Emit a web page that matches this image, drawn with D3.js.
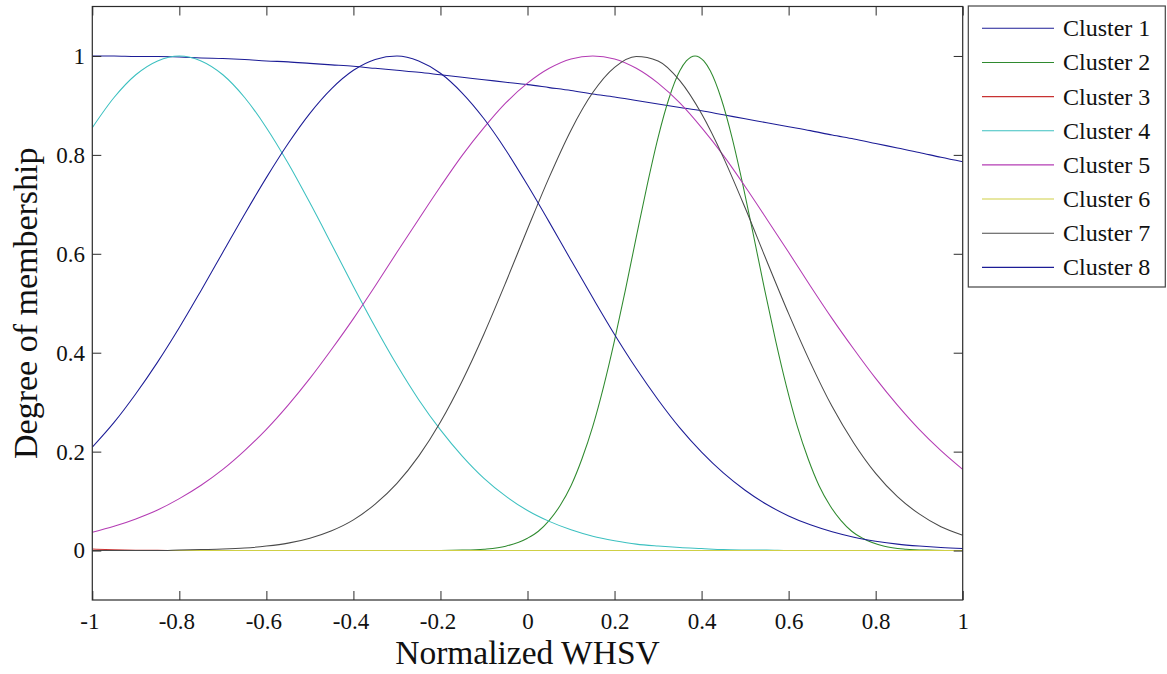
<!DOCTYPE html>
<html>
<head>
<meta charset="utf-8">
<script src="https://cdn.jsdelivr.net/npm/d3@7"></script>
<style>
  html, body { margin: 0; padding: 0; background: #ffffff; }
  svg { display: block; font-family: "Liberation Serif", "Times New Roman", serif; }
</style>
</head>
<body>
<svg id="chart" width="1167" height="674"></svg>
<script>
// Shared abscissa (normalized WHSV) for the wide membership curves
const xGrid = [-1, -0.95, -0.9, -0.85, -0.8, -0.75, -0.7, -0.65, -0.6, -0.55, -0.5,
  -0.45, -0.4, -0.35, -0.3, -0.25, -0.2, -0.15, -0.1, -0.05, 0,
  0.05, 0.1, 0.15, 0.2, 0.25, 0.3, 0.35, 0.4, 0.45, 0.5,
  0.55, 0.6, 0.65, 0.7, 0.75, 0.8, 0.85, 0.9, 0.95, 1];

// Degree of membership for each cluster
const cluster1 = [1.000, 1.000, 0.999, 0.999, 0.998, 0.996, 0.995, 0.993, 0.990, 0.988, 0.985,
  0.982, 0.979, 0.975, 0.971, 0.967, 0.962, 0.957, 0.952, 0.947, 0.942,
  0.936, 0.930, 0.923, 0.917, 0.910, 0.903, 0.896, 0.889, 0.881, 0.873,
  0.865, 0.857, 0.849, 0.840, 0.832, 0.823, 0.814, 0.805, 0.795, 0.786];

// Cluster 2 is narrow, so it has its own denser abscissa
const xCluster2 = [-1, -0.5, -0.2, -0.15, -0.1, -0.05, 0, 0.025, 0.05, 0.075, 0.1, 0.125,
  0.15, 0.175, 0.2, 0.225, 0.25, 0.275, 0.3, 0.325, 0.35, 0.365, 0.385, 0.405,
  0.42, 0.445, 0.47, 0.495, 0.52, 0.545, 0.57, 0.595, 0.62, 0.645, 0.67, 0.695,
  0.72, 0.745, 0.77, 0.82, 0.87, 0.92, 0.97, 1];
const cluster2 = [0, 0, 0.0002, 0.0008, 0.0028, 0.0088, 0.025, 0.039, 0.061, 0.091, 0.131, 0.185,
  0.251, 0.332, 0.425, 0.527, 0.634, 0.739, 0.835, 0.914, 0.970, 0.990, 1.000, 0.990,
  0.970, 0.914, 0.835, 0.739, 0.634, 0.527, 0.425, 0.332, 0.251, 0.185, 0.131, 0.091,
  0.061, 0.039, 0.025, 0.0088, 0.0028, 0.0008, 0.0002, 0];

const cluster3 = [0.003, 0.0015, 0.0007, 0.0003, 0.0001, 0, 0, 0, 0, 0, 0,
  0, 0, 0, 0, 0, 0, 0, 0, 0, 0,
  0, 0, 0, 0, 0, 0, 0, 0, 0, 0,
  0, 0, 0, 0, 0, 0, 0, 0, 0, 0];

const cluster4 = [0.855, 0.916, 0.962, 0.990, 1.000, 0.990, 0.962, 0.916, 0.855, 0.783, 0.703,
  0.619, 0.534, 0.452, 0.375, 0.305, 0.244, 0.191, 0.146, 0.110, 0.081,
  0.059, 0.042, 0.029, 0.020, 0.013, 0.009, 0.006, 0.004, 0.002, 0.001,
  0.001, 0.000, 0, 0, 0, 0, 0, 0, 0, 0];

const cluster5 = [0.037, 0.049, 0.064, 0.082, 0.105, 0.132, 0.164, 0.202, 0.245, 0.294, 0.348,
  0.407, 0.469, 0.535, 0.603, 0.670, 0.736, 0.799, 0.855, 0.905, 0.945,
  0.975, 0.994, 1.000, 0.994, 0.975, 0.945, 0.905, 0.855, 0.799, 0.736,
  0.670, 0.603, 0.535, 0.469, 0.407, 0.348, 0.294, 0.245, 0.202, 0.164];

const cluster6 = [0, 0, 0, 0, 0, 0, 0, 0, 0, 0, 0,
  0, 0, 0, 0, 0, 0, 0, 0, 0, 0,
  0, 0, 0, 0, 0, 0, 0, 0, 0, 0,
  0, 0, 0, 0, 0, 0, 0, 0, 0, 0];

const cluster7 = [0.000, 0.000, 0.000, 0.000, 0.001, 0.002, 0.003, 0.005, 0.009, 0.015, 0.025,
  0.040, 0.062, 0.094, 0.136, 0.191, 0.260, 0.343, 0.438, 0.542, 0.650,
  0.755, 0.850, 0.926, 0.977, 0.999, 0.990, 0.950, 0.883, 0.795, 0.693,
  0.585, 0.479, 0.380, 0.291, 0.217, 0.156, 0.109, 0.074, 0.048, 0.031];

const cluster8 = [0.209, 0.259, 0.317, 0.381, 0.451, 0.526, 0.603, 0.680, 0.754, 0.823, 0.884,
  0.934, 0.971, 0.993, 1.000, 0.990, 0.965, 0.925, 0.873, 0.810, 0.739,
  0.664, 0.587, 0.511, 0.437, 0.368, 0.305, 0.248, 0.199, 0.157, 0.122,
  0.093, 0.070, 0.052, 0.038, 0.027, 0.019, 0.013, 0.009, 0.006, 0.004];

const seriesNames = ["Cluster 1", "Cluster 2", "Cluster 3", "Cluster 4",
  "Cluster 5", "Cluster 6", "Cluster 7", "Cluster 8"];
const seriesColors = ["#1c1c96", "#2f8a2f", "#c83232", "#3cc0c0",
  "#b43cb4", "#cfcf45", "#4a4a4a", "#1c1c96"];

const xTicks = [-1, -0.8, -0.6, -0.4, -0.2, 0, 0.2, 0.4, 0.6, 0.8, 1];
const yTicks = [0, 0.2, 0.4, 0.6, 0.8, 1];

const xLabel = "Normalized WHSV";
const yLabel = "Degree of membership";

// Series table built from the arrays above
const series = [
  { xs: xGrid, ys: cluster1 },
  { xs: xCluster2, ys: cluster2 },
  { xs: xGrid, ys: cluster3 },
  { xs: xGrid, ys: cluster4 },
  { xs: xGrid, ys: cluster5 },
  { xs: xGrid, ys: cluster6 },
  { xs: xGrid, ys: cluster7 },
  { xs: xGrid, ys: cluster8 }
].map((s, i) => ({
  name: seriesNames[i],
  color: seriesColors[i],
  points: s.xs.map((x, j) => [x, s.ys[j]])
}));

// ---- layout ----
const svg = d3.select("#chart");
const plot = { left: 92.3, right: 962.7, top: 6.5, bottom: 600 };
const axisColor = "#2b2b2b";
const tickLen = 9;

const x = d3.scaleLinear().domain([-1, 1]).range([plot.left, plot.right]);
const y = d3.scaleLinear().domain([-0.1, 1.1]).range([plot.bottom, plot.top]);

svg.append("rect").attr("width", 1167).attr("height", 674).attr("fill", "#ffffff");

// clip region for the curves
svg.append("defs").append("clipPath").attr("id", "plot-clip")
  .append("rect")
  .attr("x", plot.left).attr("y", plot.top)
  .attr("width", plot.right - plot.left).attr("height", plot.bottom - plot.top);

// ---- curves ----
const line = d3.line()
  .x(d => x(d[0]))
  .y(d => y(d[1]))
  .curve(d3.curveMonotoneX);

svg.append("g").attr("clip-path", "url(#plot-clip)")
  .selectAll("path")
  .data(series)
  .join("path")
  .attr("d", d => line(d.points))
  .attr("fill", "none")
  .attr("stroke", d => d.color)
  .attr("stroke-width", 1.05);

// ---- axes (ticks pointing inward on all four sides) ----
function styleAxis(g) {
  g.select(".domain").remove();
  g.selectAll(".tick line").attr("stroke", axisColor).attr("stroke-width", 1);
  g.selectAll(".tick text")
    .attr("fill", "#111")
    .style("font-family", "'Liberation Serif', 'Times New Roman', serif")
    .style("font-size", "23px");
}

svg.append("g")
  .attr("transform", `translate(0,${plot.bottom})`)
  .call(d3.axisBottom(x).tickValues(xTicks).tickFormat(d => String(d))
    .tickSizeInner(-tickLen).tickSizeOuter(0).tickPadding(13))
  .call(styleAxis)
  .call(g => g.selectAll(".tick text").attr("dx", d => d < 0 ? -3 : 0));

svg.append("g")
  .attr("transform", `translate(0,${plot.top})`)
  .call(d3.axisTop(x).tickValues(xTicks).tickFormat("")
    .tickSizeInner(-tickLen).tickSizeOuter(0))
  .call(styleAxis);

svg.append("g")
  .attr("transform", `translate(${plot.left},0)`)
  .call(d3.axisLeft(y).tickValues(yTicks).tickFormat(d => String(d))
    .tickSizeInner(-tickLen).tickSizeOuter(0).tickPadding(7.3))
  .call(styleAxis);

svg.append("g")
  .attr("transform", `translate(${plot.right},0)`)
  .call(d3.axisRight(y).tickValues(yTicks).tickFormat("")
    .tickSizeInner(-tickLen).tickSizeOuter(0))
  .call(styleAxis);

// plot frame
svg.append("rect")
  .attr("x", plot.left).attr("y", plot.top)
  .attr("width", plot.right - plot.left).attr("height", plot.bottom - plot.top)
  .attr("fill", "none").attr("stroke", axisColor).attr("stroke-width", 1.2);

// ---- axis titles ----
svg.append("text")
  .attr("x", (plot.left + plot.right) / 2)
  .attr("y", 664)
  .attr("text-anchor", "middle")
  .attr("fill", "#111")
  .style("font-size", "33.5px")
  .text(xLabel);

svg.append("text")
  .attr("transform", `translate(37,${(plot.top + plot.bottom) / 2}) rotate(-90)`)
  .attr("text-anchor", "middle")
  .attr("fill", "#111")
  .style("font-size", "34px")
  .text(yLabel);

// ---- legend ----
const legend = { x: 968.3, y: 6, w: 197, h: 281, rowY0: 28.3, rowStep: 34.15 };
const lg = svg.append("g");
lg.append("rect")
  .attr("x", legend.x).attr("y", legend.y)
  .attr("width", legend.w).attr("height", legend.h)
  .attr("fill", "#ffffff").attr("stroke", "#444").attr("stroke-width", 1.2);

const rows = lg.selectAll("g.row").data(series).join("g")
  .attr("class", "row")
  .attr("transform", (d, i) => `translate(0,${legend.rowY0 + i * legend.rowStep})`);

rows.append("line")
  .attr("x1", 982).attr("x2", 1054)
  .attr("y1", 0).attr("y2", 0)
  .attr("stroke", d => d.color).attr("stroke-width", 1.1);

rows.append("text")
  .attr("x", 1063).attr("y", 0).attr("dy", "0.33em")
  .attr("fill", "#111")
  .style("font-size", "24px")
  .text(d => d.name);
</script>
</body>
</html>
